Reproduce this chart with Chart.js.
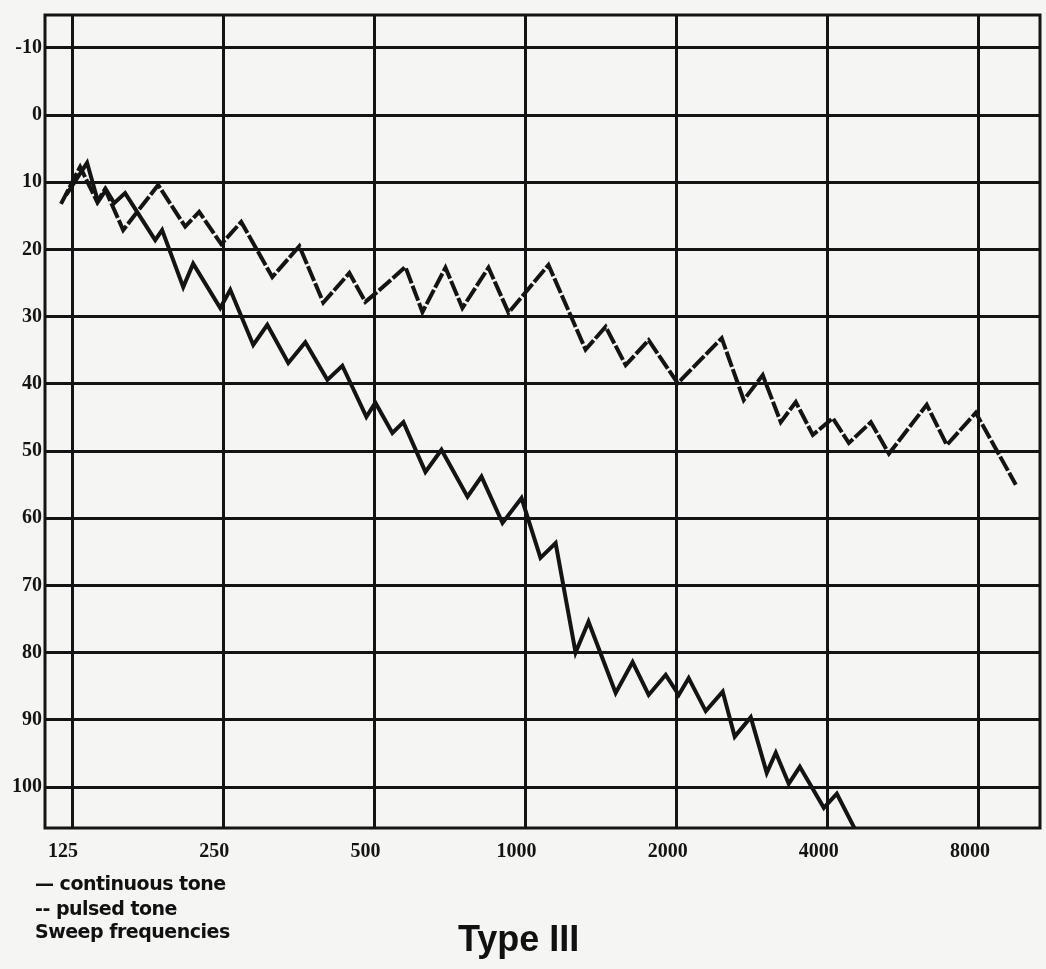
<!DOCTYPE html>
<html>
<head>
<meta charset="utf-8">
<script src="https://cdn.jsdelivr.net/npm/chart.js@4/dist/chart.umd.min.js"></script>
<style>
  body { margin: 0; background: #f5f5f3; }
  #wrap { position: relative; width: 1046px; height: 969px; }
  canvas { position: absolute; left: 0; top: 0; }
  .note { position: absolute; color: #111; font-family: "DejaVu Sans", sans-serif; font-weight: bold; font-size: 19px; letter-spacing: -0.5px; white-space: nowrap; }
  #title { position: absolute; left: 458px; top: 918px; color: #111; font-family: "Liberation Sans", Arial, sans-serif; font-weight: bold; font-size: 36px; white-space: nowrap; }
</style>
</head>
<body>
<div id="wrap">
  <canvas id="audiogram" width="1046" height="969"></canvas>
  <div class="note" style="left:35px; top:872px;">— continuous tone</div>
  <div class="note" style="left:35px; top:897px;">-- pulsed tone</div>
  <div class="note" style="left:35px; top:920px;">Sweep frequencies</div>
  <div id="title">Type III</div>
</div>
<script>
// tick labels
const freqTicks = [125, 250, 500, 1000, 2000, 4000, 8000];
const dbTicks = [-10, 0, 10, 20, 30, 40, 50, 60, 70, 80, 90, 100];

// continuous tone (Hz, dB HL)
const contFreq = [121.6, 133.9, 140.8, 146.1, 151.6, 159.4, 183.0, 188.9, 208.1, 217.8,
  246.6, 258.2, 286.9, 306.0, 336.9, 364.3, 403.0, 431.7, 482.0, 502.3,
  543.1, 571.2, 631.9, 680.1, 766.3, 817.2, 899.8, 981.8, 1071, 1148,
  1258, 1335, 1512, 1634, 1759, 1902, 2019, 2113, 2285, 2470,
  2610, 2809, 3023, 3151, 3344, 3518, 3928, 4169, 4612];
const contDb = [11.9, 7.1, 12.9, 11.1, 13.1, 11.6, 18.6, 17.1, 25.6, 22.1,
  28.7, 26.0, 34.2, 31.2, 36.9, 33.8, 39.4, 37.3, 44.9, 42.8,
  47.3, 45.7, 53.1, 49.8, 56.8, 53.8, 60.7, 57.0, 65.9, 63.7,
  80.0, 75.4, 86.0, 81.4, 86.3, 83.3, 86.3, 83.8, 88.7, 85.8,
  92.5, 89.6, 97.9, 94.9, 99.5, 97.0, 103.1, 101.0, 107.4];

// pulsed tone (Hz, dB HL)
const pulsedFreq = [118.8, 129.7, 140.2, 145.4, 158.0, 185.5, 210.0, 223.9, 247.7, 271.5,
  313.1, 354.4, 395.6, 445.8, 479.8, 506.9, 576.5, 623.3, 692.7, 748.6,
  843.9, 925.0, 1111, 1317, 1444, 1583, 1759, 2009, 2459, 2720,
  2968, 3224, 3454, 3734, 4093, 4405, 4873, 5293, 6296, 6902,
  7884, 9472];
const pulsedDb = [13.2, 7.7, 12.9, 11.0, 17.1, 10.4, 16.6, 14.4, 19.2, 15.9,
  24.1, 19.5, 27.9, 23.5, 27.8, 26.3, 22.6, 29.3, 22.7, 28.7,
  22.7, 29.4, 22.3, 34.9, 31.5, 37.2, 33.5, 39.9, 33.2, 42.4,
  38.7, 45.7, 42.7, 47.6, 45.1, 48.8, 45.7, 50.4, 43.1, 49.1,
  44.3, 55.0];

const ink = "#141414";

const toPoints = (xs, ys) => xs.map((x, i) => ({ x, y: ys[i] }));

// draw the closed frame around the plot area
const framePlugin = {
  id: "frame",
  beforeDatasetsDraw(chart) {
    const { ctx, chartArea: a } = chart;
    ctx.save();
    ctx.strokeStyle = ink;
    ctx.lineWidth = 3;
    ctx.strokeRect(a.left, a.top, a.right - a.left, a.bottom - a.top);
    ctx.restore();
  }
};

const tickFont = { family: "'Liberation Serif', serif", weight: "bold", size: 20 };

new Chart(document.getElementById("audiogram").getContext("2d"), {
  type: "line",
  data: {
    datasets: [
      {
        label: "continuous tone",
        data: toPoints(contFreq, contDb),
        borderColor: ink,
        borderWidth: 4,
        pointRadius: 0,
        tension: 0
      },
      {
        label: "pulsed tone",
        data: toPoints(pulsedFreq, pulsedDb),
        borderColor: ink,
        borderWidth: 4,
        borderDash: [16, 2.5],
        pointRadius: 0,
        tension: 0
      }
    ]
  },
  options: {
    responsive: false,
    animation: false,
    layout: { padding: { left: 0, top: 15, right: 6, bottom: 101 } },
    plugins: {
      legend: { display: false },
      tooltip: { enabled: false }
    },
    scales: {
      x: {
        type: "logarithmic",
        min: 110.4,
        max: 10584,
        afterBuildTicks: (scale) => { scale.ticks = freqTicks.map(v => ({ value: v })); },
        afterFit: (scale) => { scale.height = 40; },
        grid: { color: ink, lineWidth: 3, drawTicks: false },
        border: { display: false },
        ticks: {
          autoSkip: false,
          maxRotation: 0,
          padding: 12,
          labelOffset: -9,
          color: ink,
          font: tickFont,
          callback: (v) => String(v)
        }
      },
      y: {
        type: "linear",
        reverse: true,
        min: -14.9,
        max: 106.1,
        afterBuildTicks: (scale) => { scale.ticks = dbTicks.map(v => ({ value: v })); },
        afterFit: (scale) => { scale.width = 45; },
        grid: { color: ink, lineWidth: 3, drawTicks: false },
        border: { display: false },
        ticks: {
          padding: 3,
          color: ink,
          font: tickFont,
          callback: (v) => String(v)
        }
      }
    }
  },
  plugins: [framePlugin]
});
</script>
</body>
</html>
